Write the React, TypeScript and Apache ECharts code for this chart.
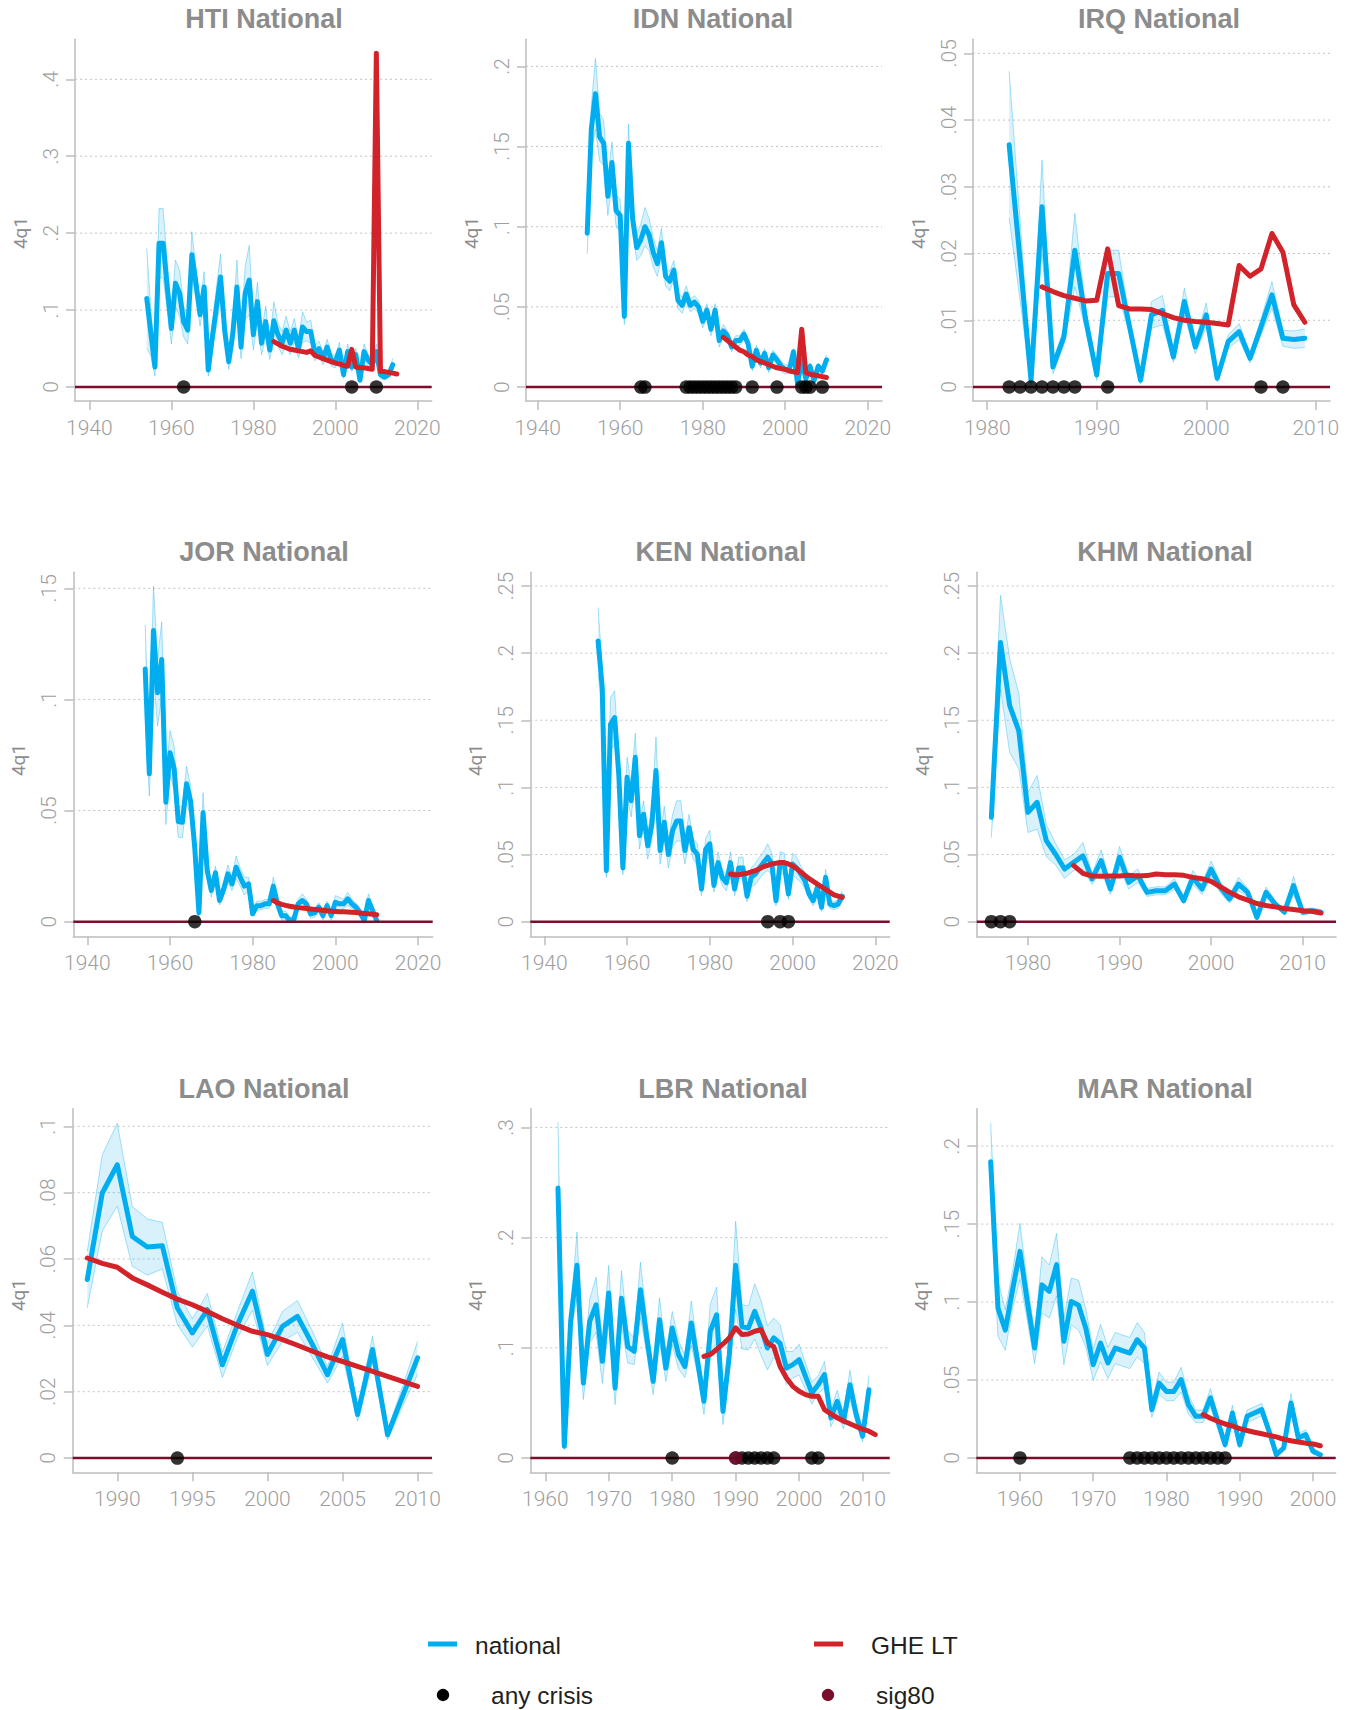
import React, { useEffect, useRef } from "react";
import * as echarts from "echarts";

// ---------- colours & fonts ----------
const BLUE = "#00aeef";
const RED = "#d2232a";
const MAROON = "#7b0c2c";
const BAND_FILL = "rgba(0,160,230,0.15)";
const BAND_EDGE = "rgba(0,174,239,0.35)";
const AXIS_C = "#bdbdbd";
const GRID_C = "#c4c4c4";
const TICK_C = "#9e9e9e";
const TITLE_C = "#8c8c8c";
const TICK_FONT = "Roboto, 'Liberation Sans', sans-serif";
const TITLE_FONT = "'Liberation Sans', Arial, sans-serif";
const LEGEND_FONT = "'Liberation Sans', Arial, sans-serif";

// ---------- HTI ----------
const htiStart = 1954;
const htiNational = [
  0.115, 0.07, 0.026, 0.187, 0.187, 0.13, 0.076, 0.135, 0.122, 0.085,
  0.074, 0.172, 0.135, 0.094, 0.13, 0.022, 0.065, 0.104, 0.143, 0.074,
  0.033, 0.07, 0.13, 0.052, 0.122, 0.139, 0.068, 0.111, 0.057, 0.085,
  0.048, 0.086, 0.068, 0.057, 0.074, 0.057, 0.074, 0.05, 0.078, 0.072,
  0.072, 0.044, 0.05, 0.037, 0.052, 0.035, 0.033, 0.048, 0.016, 0.046,
  0.026, 0.042, 0.009, 0.046, 0.035, 0.029, 0.046, 0.016, 0.013, 0.016,
  0.029,
];
const htiBand = [
  0.065, 0.03, 0.012, 0.045, 0.045, 0.03, 0.02, 0.03, 0.03, 0.02,
  0.018, 0.03, 0.02, 0.015, 0.02, 0.008, 0.015, 0.025, 0.03, 0.015,
  0.01, 0.02, 0.035, 0.015, 0.035, 0.045, 0.02, 0.025, 0.015, 0.02,
  0.012, 0.025, 0.015, 0.015, 0.018, 0.015, 0.015, 0.012, 0.02, 0.012,
  0.015, 0.01, 0.01, 0.008, 0.01, 0.008, 0.008, 0.01, 0.005, 0.01,
  0.006, 0.008, 0.004, 0.01, 0.008, 0.007, 0.01, 0.005, 0.004, 0.004,
  0.008,
];
const htiGheStart = 1985;
const htiGhe = [
  0.059, 0.056, 0.053, 0.051, 0.049, 0.048, 0.047, 0.046, 0.045, 0.047,
  0.041, 0.039, 0.037, 0.035, 0.033, 0.031, 0.03, 0.028, 0.027, 0.049,
  0.026, 0.025, 0.025, 0.024, 0.023, 0.434, 0.02, 0.02, 0.019, 0.018,
  0.017,
];
const htiCrisis = [1963, 2004, 2010];
const htiSig80: number[] = [];

// ---------- IDN ----------
const idnStart = 1952;
const idnNational = [
  0.096, 0.161, 0.183, 0.156, 0.152, 0.119, 0.14, 0.11, 0.107, 0.044,
  0.152, 0.105, 0.087, 0.092, 0.1, 0.095, 0.084, 0.077, 0.09, 0.069,
  0.066, 0.073, 0.054, 0.051, 0.058, 0.051, 0.053, 0.05, 0.041, 0.048,
  0.036, 0.048, 0.029, 0.035, 0.032, 0.025, 0.029, 0.029, 0.033, 0.027,
  0.013, 0.023, 0.015, 0.021, 0.012, 0.02, 0.017, 0.013, 0.011, 0.011,
  0.022, 0.002, 0.017, 0.005, 0.013, 0.004, 0.013, 0.01, 0.017,
];
const idnBand = [
  0.013, 0.015, 0.022, 0.015, 0.014, 0.012, 0.013, 0.01, 0.01, 0.005,
  0.012, 0.008, 0.008, 0.01, 0.012, 0.01, 0.009, 0.008, 0.009, 0.006,
  0.006, 0.006, 0.005, 0.005, 0.005, 0.004, 0.004, 0.004, 0.004, 0.004,
  0.004, 0.004, 0.004, 0.004, 0.003, 0.003, 0.003, 0.003, 0.003, 0.003,
  0.003, 0.003, 0.003, 0.003, 0.003, 0.003, 0.003, 0.003, 0.003, 0.002,
  0.002, 0.002, 0.002, 0.002, 0.002, 0.002, 0.002, 0.002, 0.003,
];
const idnGheStart = 1985;
const idnGhe = [
  0.031, 0.029, 0.027, 0.025, 0.023, 0.022, 0.02, 0.019, 0.017, 0.016,
  0.015, 0.014, 0.013, 0.012, 0.0115, 0.011, 0.01, 0.0095, 0.009, 0.036,
  0.009, 0.008, 0.0075, 0.007, 0.0065, 0.006,
];
const idnCrisis = [
  1965, 1966, 1976, 1977, 1978, 1979, 1980, 1981, 1982, 1983, 1984, 1985,
  1986, 1987, 1988, 1992, 1998, 2004, 2005, 2006, 2009,
];
const idnSig80: number[] = [];

// ---------- IRQ ----------
const irqStart = 1982;
const irqNational = [
  0.0363, 0.019, 0.001, 0.027, 0.003, 0.0075, 0.0205, 0.01, 0.0018, 0.017,
  0.017, 0.009, 0.001, 0.0108, 0.0115, 0.0045, 0.0128, 0.006, 0.0108, 0.0013,
  0.0068, 0.0083, 0.0043, 0.009, 0.0138, 0.0073, 0.0071, 0.0073,
];
const irqBand = [
  0.011, 0.006, 0.001, 0.007, 0.001, 0.0012, 0.0055, 0.0015, 0.0008, 0.0035,
  0.0035, 0.001, 0.0005, 0.002, 0.0022, 0.0008, 0.002, 0.001, 0.0018, 0.0005,
  0.001, 0.0012, 0.0007, 0.0012, 0.002, 0.0012, 0.0013, 0.0014,
];
const irqGheStart = 1985;
const irqGhe = [
  0.015, 0.0143, 0.0137, 0.0133, 0.0129, 0.013, 0.0207, 0.0122, 0.0117, 0.0117,
  0.0116, 0.011, 0.0104, 0.01, 0.0098, 0.0097, 0.0095, 0.0093, 0.0182, 0.0166,
  0.0177, 0.023, 0.0202, 0.0123, 0.0097,
];
const irqCrisis = [1982, 1983, 1984, 1985, 1986, 1987, 1988, 1991, 2005, 2007];
const irqSig80: number[] = [];

// ---------- JOR ----------
const jorStart = 1954;
const jorNational = [
  0.1137, 0.0665, 0.131, 0.103, 0.118, 0.0537, 0.076, 0.069, 0.045, 0.0447,
  0.062, 0.054, 0.033, 0.004, 0.049, 0.023, 0.014, 0.022, 0.0095, 0.0147,
  0.0215, 0.017, 0.0245, 0.02, 0.016, 0.017, 0.0035, 0.0072, 0.0072, 0.008,
  0.008, 0.016, 0.008, 0.0027, 0.0027, 0.0005, 0.0012, 0.008, 0.0095, 0.008,
  0.0035, 0.004, 0.0065, 0.0027, 0.0072, 0.0027, 0.0087, 0.008, 0.008, 0.0102,
  0.008, 0.0065, 0.004, 0.0005, 0.0095, 0.005, 0.0005,
];
const jorBand = [
  0.02, 0.01, 0.02, 0.015, 0.017, 0.01, 0.01, 0.01, 0.007, 0.007,
  0.008, 0.007, 0.006, 0.002, 0.009, 0.004, 0.003, 0.003, 0.002, 0.003,
  0.004, 0.003, 0.005, 0.004, 0.004, 0.003, 0.001, 0.002, 0.002, 0.002,
  0.002, 0.004, 0.002, 0.002, 0.002, 0.001, 0.002, 0.002, 0.003, 0.002,
  0.002, 0.002, 0.002, 0.002, 0.002, 0.002, 0.003, 0.003, 0.002, 0.003,
  0.002, 0.002, 0.002, 0.002, 0.003, 0.002, 0.002,
];
const jorGheStart = 1985;
const jorGhe = [
  0.0095, 0.0085, 0.0078, 0.0073, 0.0069, 0.0066, 0.0063, 0.0061, 0.0059, 0.0057,
  0.0055, 0.0053, 0.0051, 0.0049, 0.0047, 0.0046, 0.0045, 0.0044, 0.0043, 0.0042,
  0.0041, 0.0039, 0.0037, 0.0035, 0.0033, 0.0031,
];
const jorCrisis = [1966];
const jorSig80: number[] = [];

// ---------- KEN ----------
const kenStart = 1953;
const kenNational = [
  0.209, 0.1745, 0.038, 0.147, 0.152, 0.11, 0.04, 0.1075, 0.09, 0.1224,
  0.064, 0.08, 0.0566, 0.0727, 0.1125, 0.053, 0.074, 0.05, 0.0678, 0.075,
  0.075, 0.053, 0.07, 0.054, 0.05, 0.0243, 0.054, 0.058, 0.027, 0.044,
  0.033, 0.029, 0.044, 0.0243, 0.04, 0.04, 0.019, 0.033, 0.0355, 0.04,
  0.044, 0.048, 0.043, 0.0156, 0.044, 0.043, 0.0206, 0.043, 0.04, 0.0355,
  0.0305, 0.0206, 0.0156, 0.0256, 0.0107, 0.033, 0.013, 0.012, 0.013, 0.019,
];
const kenBand = [
  0.025, 0.015, 0.005, 0.02, 0.02, 0.012, 0.005, 0.015, 0.012, 0.018,
  0.01, 0.01, 0.01, 0.012, 0.025, 0.01, 0.012, 0.01, 0.012, 0.015,
  0.015, 0.01, 0.01, 0.008, 0.008, 0.005, 0.008, 0.01, 0.005, 0.008,
  0.006, 0.006, 0.008, 0.005, 0.008, 0.008, 0.004, 0.007, 0.008, 0.008,
  0.008, 0.01, 0.008, 0.004, 0.008, 0.008, 0.004, 0.008, 0.008, 0.006,
  0.006, 0.004, 0.004, 0.005, 0.003, 0.006, 0.003, 0.003, 0.003, 0.004,
];
const kenGheStart = 1985;
const kenGhe = [
  0.0355, 0.035, 0.035, 0.0355, 0.036, 0.037, 0.038, 0.0395, 0.041, 0.042,
  0.043, 0.0435, 0.044, 0.044, 0.043, 0.0415, 0.0395, 0.037, 0.0345, 0.032,
  0.03, 0.028, 0.026, 0.024, 0.022, 0.02, 0.019, 0.018,
];
const kenCrisis = [1994, 1997, 1999];
const kenSig80: number[] = [];

// ---------- KHM ----------
const khmStart = 1976;
const khmNational = [
  0.0777, 0.208, 0.161, 0.142, 0.0814, 0.0889, 0.0603, 0.0504, 0.0392, 0.0442,
  0.049, 0.0318, 0.0454, 0.0243, 0.048, 0.0293, 0.0343, 0.0218, 0.023, 0.023,
  0.028, 0.0156, 0.033, 0.0243, 0.0392, 0.0256, 0.0169, 0.028, 0.0218, 0.0032,
  0.0218, 0.0132, 0.007, 0.0268, 0.007, 0.0082, 0.007,
];
const khmBand = [
  0.015, 0.035, 0.035, 0.028, 0.015, 0.02, 0.012, 0.008, 0.007, 0.006,
  0.01, 0.004, 0.008, 0.004, 0.008, 0.005, 0.005, 0.003, 0.003, 0.003,
  0.004, 0.002, 0.005, 0.004, 0.006, 0.004, 0.003, 0.005, 0.003, 0.001,
  0.004, 0.002, 0.001, 0.007, 0.002, 0.002, 0.002,
];
const khmGheStart = 1985;
const khmGhe = [
  0.0417, 0.036, 0.034, 0.0338, 0.034, 0.034, 0.0345, 0.034, 0.0343, 0.0355,
  0.035, 0.035, 0.0345, 0.033, 0.032, 0.03, 0.026, 0.022, 0.0185, 0.016,
  0.0135, 0.012, 0.011, 0.0098, 0.009, 0.0082, 0.0078, 0.0065,
];
const khmCrisis = [1976, 1977, 1978];
const khmSig80: number[] = [];

// ---------- LAO ----------
const laoStart = 1988;
const laoNational = [
  0.0538, 0.0799, 0.0884, 0.0668, 0.0636, 0.064, 0.0452, 0.0377, 0.0447, 0.0281,
  0.0402, 0.0503, 0.0312, 0.0397, 0.0427, 0.0342, 0.0251, 0.0357, 0.0131, 0.0327,
  0.007, 0.0186, 0.0302,
];
const laoBand = [
  0.0085, 0.0115, 0.0125, 0.009, 0.0085, 0.007, 0.005, 0.0043, 0.0049, 0.0038,
  0.004, 0.0058, 0.0033, 0.0045, 0.0048, 0.004, 0.0025, 0.005, 0.002, 0.004,
  0.0015, 0.003, 0.005,
];
const laoGheStart = 1988;
const laoGhe = [
  0.0603, 0.0587, 0.0575, 0.0543, 0.0522, 0.05, 0.0479, 0.0462, 0.0442, 0.042,
  0.04, 0.0382, 0.0372, 0.0357, 0.034, 0.0322, 0.0305, 0.0291, 0.0276, 0.0261,
  0.0246, 0.0231, 0.0216,
];
const laoCrisis = [1994];
const laoSig80: number[] = [];

// ---------- LBR ----------
const lbrStart = 1962;
const lbrNational = [
  0.245, 0.0106, 0.124, 0.175, 0.068, 0.124, 0.139, 0.0877, 0.1497, 0.0635,
  0.145, 0.101, 0.0968, 0.1527, 0.109, 0.0695, 0.1255, 0.0816, 0.118, 0.0937,
  0.083, 0.1225, 0.0877, 0.0514, 0.115, 0.13, 0.0423, 0.0937, 0.175, 0.119,
  0.118, 0.133, 0.118, 0.0998, 0.109, 0.104, 0.0816, 0.0847, 0.0892, 0.074,
  0.059, 0.0665, 0.0756, 0.0363, 0.0514, 0.0333, 0.0665, 0.0393, 0.0197, 0.062,
];
const lbrBand = [
  0.06, 0.003, 0.01, 0.03, 0.015, 0.02, 0.025, 0.02, 0.025, 0.015,
  0.025, 0.015, 0.012, 0.025, 0.015, 0.012, 0.02, 0.012, 0.015, 0.013,
  0.01, 0.02, 0.012, 0.012, 0.025, 0.025, 0.012, 0.015, 0.04, 0.02,
  0.02, 0.025, 0.025, 0.02, 0.018, 0.017, 0.015, 0.012, 0.014, 0.012,
  0.01, 0.008, 0.012, 0.008, 0.01, 0.007, 0.013, 0.008, 0.005, 0.013,
];
const lbrGheStart = 1985;
const lbrGhe = [
  0.0922, 0.094, 0.0985, 0.1035, 0.109, 0.118, 0.112, 0.1125, 0.115, 0.1164,
  0.1043, 0.101, 0.083, 0.0726, 0.065, 0.0605, 0.0575, 0.056, 0.056, 0.0438,
  0.04, 0.0365, 0.0335, 0.031, 0.0285, 0.0262, 0.0243, 0.0212,
];
const lbrCrisis = [1980, 1990, 1991, 1992, 1993, 1994, 1995, 1996, 2002, 2003];
const lbrSig80 = [1990];

// ---------- MAR ----------
const marStart = 1956;
const marNational = [
  0.19, 0.096, 0.082, 0.108, 0.1325, 0.1004, 0.0705, 0.111, 0.1068, 0.124,
  0.0748, 0.1004, 0.098, 0.083, 0.0598, 0.0737, 0.061, 0.0705, 0.0688, 0.0673,
  0.0758, 0.0705, 0.031, 0.048, 0.0427, 0.0427, 0.0502, 0.0342, 0.0267, 0.0267,
  0.0385, 0.0235, 0.0085, 0.0288, 0.0085, 0.0267, 0.0288, 0.031, 0.0171, 0.0021,
  0.0064, 0.0353, 0.0128, 0.015, 0.0043, 0.0021,
];
const marBand = [
  0.025, 0.018, 0.013, 0.012, 0.018, 0.012, 0.01, 0.018, 0.017, 0.02,
  0.015, 0.015, 0.016, 0.012, 0.01, 0.012, 0.01, 0.01, 0.01, 0.01,
  0.011, 0.01, 0.005, 0.007, 0.006, 0.006, 0.008, 0.006, 0.004, 0.004,
  0.006, 0.004, 0.002, 0.005, 0.002, 0.004, 0.004, 0.004, 0.003, 0.001,
  0.002, 0.006, 0.003, 0.003, 0.002, 0.001,
];
const marGheStart = 1985;
const marGhe = [
  0.0278, 0.0255, 0.0235, 0.0218, 0.0205, 0.0188, 0.0176, 0.0165, 0.0155, 0.0145,
  0.0135, 0.012, 0.011, 0.0102, 0.0095, 0.009, 0.0078,
];
const marCrisis = [
  1960, 1975, 1976, 1977, 1978, 1979, 1980, 1981, 1982, 1983, 1984, 1985,
  1986, 1987, 1988,
];
const marSig80: number[] = [];

// ---------- tick labels ----------
const xTicks40 = [1940, 1960, 1980, 2000, 2020];
const xTicks80 = [1980, 1990, 2000, 2010];
const xTicksLao = [1990, 1995, 2000, 2005, 2010];
const xTicksLbr = [1960, 1970, 1980, 1990, 2000, 2010];
const xTicksMar = [1960, 1970, 1980, 1990, 2000];
const yTicksHti = [0, 0.1, 0.2, 0.3, 0.4];
const yTicksIdn = [0, 0.05, 0.1, 0.15, 0.2];
const yTicksIrq = [0, 0.01, 0.02, 0.03, 0.04, 0.05];
const yTicksJor = [0, 0.05, 0.1, 0.15];
const yTicksKen = [0, 0.05, 0.1, 0.15, 0.2, 0.25];
const yTicksLao = [0, 0.02, 0.04, 0.06, 0.08, 0.1];
const yTicksLbr = [0, 0.1, 0.2, 0.3];
const yTicksMar = [0, 0.05, 0.1, 0.15, 0.2];
const yTitle = "4q1";

type Country = {
  title: string;
  start: number;
  national: number[];
  band: number[];
  gheStart: number;
  ghe: number[];
  crisis: number[];
  sig80: number[];
  xTicks: number[];
  yTicks: number[];
};

const countries: Country[] = [
  { title: "HTI National", start: htiStart, national: htiNational, band: htiBand, gheStart: htiGheStart, ghe: htiGhe, crisis: htiCrisis, sig80: htiSig80, xTicks: xTicks40, yTicks: yTicksHti },
  { title: "IDN National", start: idnStart, national: idnNational, band: idnBand, gheStart: idnGheStart, ghe: idnGhe, crisis: idnCrisis, sig80: idnSig80, xTicks: xTicks40, yTicks: yTicksIdn },
  { title: "IRQ National", start: irqStart, national: irqNational, band: irqBand, gheStart: irqGheStart, ghe: irqGhe, crisis: irqCrisis, sig80: irqSig80, xTicks: xTicks80, yTicks: yTicksIrq },
  { title: "JOR National", start: jorStart, national: jorNational, band: jorBand, gheStart: jorGheStart, ghe: jorGhe, crisis: jorCrisis, sig80: jorSig80, xTicks: xTicks40, yTicks: yTicksJor },
  { title: "KEN National", start: kenStart, national: kenNational, band: kenBand, gheStart: kenGheStart, ghe: kenGhe, crisis: kenCrisis, sig80: kenSig80, xTicks: xTicks40, yTicks: yTicksKen },
  { title: "KHM National", start: khmStart, national: khmNational, band: khmBand, gheStart: khmGheStart, ghe: khmGhe, crisis: khmCrisis, sig80: khmSig80, xTicks: xTicks80, yTicks: yTicksKen },
  { title: "LAO National", start: laoStart, national: laoNational, band: laoBand, gheStart: laoGheStart, ghe: laoGhe, crisis: laoCrisis, sig80: laoSig80, xTicks: xTicksLao, yTicks: yTicksLao },
  { title: "LBR National", start: lbrStart, national: lbrNational, band: lbrBand, gheStart: lbrGheStart, ghe: lbrGhe, crisis: lbrCrisis, sig80: lbrSig80, xTicks: xTicksLbr, yTicks: yTicksLbr },
  { title: "MAR National", start: marStart, national: marNational, band: marBand, gheStart: marGheStart, ghe: marGhe, crisis: marCrisis, sig80: marSig80, xTicks: xTicksMar, yTicks: yTicksMar },
];

// Plot-region geometry and axis ranges of each small multiple (pixels / data units).
type Layout = {
  left: number; top: number; width: number; height: number;
  xMin: number; xMax: number; yMin: number; yMax: number;
  titleX: number; titleY: number; yTitleY: number;
};
const layouts: Layout[] = [
  { left: 75, top: 39.3, width: 356.7, height: 361.7, xMin: 1936.5, xMax: 2023.5, yMin: -0.0182, yMax: 0.452, titleX: 264, titleY: 19, yTitleY: 233 },
  { left: 526, top: 39.3, width: 356, height: 361.7, xMin: 1937.16, xMax: 2023.46, yMin: -0.0087, yMax: 0.2169, titleX: 713, titleY: 19, yTitleY: 233 },
  { left: 973, top: 39.3, width: 357, height: 361.7, xMin: 1978.7, xMax: 2011.3, yMin: -0.0021, yMax: 0.0521, titleX: 1159, titleY: 19, yTitleY: 233 },
  { left: 73.3, top: 572.3, width: 359.4, height: 364, xMin: 1936.61, xMax: 2023.55, yMin: -0.0066, yMax: 0.1572, titleX: 264, titleY: 552, yTitleY: 760 },
  { left: 530.3, top: 572.3, width: 359.4, height: 364, xMin: 1936.62, xMax: 2023.48, yMin: -0.0109, yMax: 0.2602, titleX: 721, titleY: 552, yTitleY: 760 },
  { left: 976.7, top: 572.3, width: 359.3, height: 364, xMin: 1974.4, xMax: 2013.64, yMin: -0.0109, yMax: 0.2602, titleX: 1165, titleY: 552, yTitleY: 760 },
  { left: 72.7, top: 1108.7, width: 359.3, height: 363.6, xMin: 1987.03, xMax: 2010.96, yMin: -0.0043, yMax: 0.1053, titleX: 264, titleY: 1089, yTitleY: 1295 },
  { left: 530.3, top: 1108.7, width: 359.4, height: 363.6, xMin: 1957.64, xMax: 2014.27, yMin: -0.013, yMax: 0.317, titleX: 723, titleY: 1089, yTitleY: 1295 },
  { left: 976.3, top: 1108.7, width: 359.4, height: 363.6, xMin: 1954.04, xMax: 2003.1, yMin: -0.0092, yMax: 0.224, titleX: 1165, titleY: 1089, yTitleY: 1295 },
];

const fmtY = (v: number) => (v === 0 ? "0" : String(v).replace(/^0\./, "."));

function buildOption() {
  const grid: any[] = [];
  const xAxis: any[] = [];
  const yAxis: any[] = [];
  const series: any[] = [];
  const graphic: any[] = [];

  countries.forEach((c, i) => {
    const L = layouts[i];
    grid.push({ left: L.left, top: L.top, width: L.width, height: L.height });
    xAxis.push({
      type: "value",
      gridIndex: i,
      min: L.xMin,
      max: L.xMax,
      axisLine: { show: true, onZero: false, lineStyle: { color: AXIS_C, width: 1.5 } },
      axisTick: { show: true, length: 9, customValues: c.xTicks, lineStyle: { color: AXIS_C, width: 1.5 } },
      axisLabel: {
        customValues: c.xTicks,
        color: TICK_C,
        fontSize: 21,
        fontFamily: TICK_FONT,
        fontWeight: 300,
        margin: 16,
        formatter: (v: number) => String(v),
      },
      splitLine: { show: false },
    });
    yAxis.push({
      type: "value",
      gridIndex: i,
      min: L.yMin,
      max: L.yMax,
      axisLine: { show: true, onZero: false, lineStyle: { color: AXIS_C, width: 1.5 } },
      axisTick: { show: true, length: 9, customValues: c.yTicks, lineStyle: { color: AXIS_C, width: 1.5 } },
      axisLabel: {
        customValues: c.yTicks,
        rotate: 90,
        color: TICK_C,
        fontSize: 21,
        fontFamily: TICK_FONT,
        fontWeight: 300,
        margin: 14,
        formatter: fmtY,
      },
      splitLine: { show: false },
    });

    const ax = { xAxisIndex: i, yAxisIndex: i };

    // horizontal reference lines at each y tick (zero line in maroon)
    c.yTicks.forEach((t) => {
      series.push({
        type: "line",
        ...ax,
        silent: true,
        symbol: "none",
        z: t === 0 ? 3 : 0,
        data: [[L.xMin, t], [L.xMax, t]],
        lineStyle: t === 0 ? { color: MAROON, width: 2.5 } : { color: GRID_C, width: 1, type: [2, 3] },
      });
    });

    // confidence band around the national series
    const upper = c.national.map((v, k) => [c.start + k, v + c.band[k]]);
    const lower = c.national.map((v, k) => [c.start + k, Math.max(0, v - c.band[k])]);
    series.push({
      type: "custom",
      ...ax,
      silent: true,
      z: 1,
      data: [[c.start, 0]],
      renderItem: (_params: any, api: any) => {
        const up = upper.map((p) => api.coord(p));
        const lo = lower.map((p) => api.coord(p));
        return {
          type: "group",
          children: [
            { type: "polygon", shape: { points: up.concat(lo.slice().reverse()) }, style: { fill: BAND_FILL, stroke: null } },
            { type: "polyline", shape: { points: up }, style: { stroke: BAND_EDGE, lineWidth: 1, fill: null } },
            { type: "polyline", shape: { points: lo }, style: { stroke: BAND_EDGE, lineWidth: 1, fill: null } },
          ],
        };
      },
    });

    series.push({
      type: "line",
      ...ax,
      silent: true,
      symbol: "none",
      z: 2,
      data: c.national.map((v, k) => [c.start + k, v]),
      lineStyle: { color: BLUE, width: 5, cap: "round", join: "round" },
    });
    series.push({
      type: "line",
      ...ax,
      silent: true,
      symbol: "none",
      z: 4,
      data: c.ghe.map((v, k) => [c.gheStart + k, v]),
      lineStyle: { color: RED, width: 5, cap: "round", join: "round" },
    });
    series.push({
      type: "scatter",
      ...ax,
      silent: true,
      z: 5,
      symbolSize: 13.5,
      itemStyle: { color: "#000" },
      data: c.crisis.map((y) => [y, 0]),
    });
    if (c.sig80.length) {
      series.push({
        type: "scatter",
        ...ax,
        silent: true,
        z: 6,
        symbolSize: 13.5,
        itemStyle: { color: MAROON },
        data: c.sig80.map((y) => [y, 0]),
      });
    }

    // panel title
    graphic.push({
      type: "text",
      x: L.titleX,
      y: L.titleY,
      silent: true,
      style: {
        text: c.title,
        fill: TITLE_C,
        fontSize: 27,
        fontWeight: "bold",
        fontFamily: TITLE_FONT,
        align: "center",
        verticalAlign: "middle",
        textAlign: "center",
        textVerticalAlign: "middle",
      },
    });
    // rotated y-axis title
    graphic.push({
      type: "text",
      x: L.left - 54.5,
      y: L.yTitleY,
      rotation: Math.PI / 2,
      silent: true,
      style: {
        text: yTitle,
        fill: TITLE_C,
        fontSize: 19,
        fontFamily: TICK_FONT,
        align: "center",
        verticalAlign: "middle",
        textAlign: "center",
        textVerticalAlign: "middle",
      },
    });
  });

  // legend
  const legendText = (text: string, x: number, y: number) => ({
    type: "text",
    x,
    y,
    silent: true,
    style: {
      text,
      fill: "#231f20",
      fontSize: 24.5,
      fontFamily: LEGEND_FONT,
      align: "left",
      verticalAlign: "middle",
      textAlign: "left",
      textVerticalAlign: "middle",
    },
  });
  graphic.push(
    { type: "line", silent: true, shape: { x1: 428, y1: 1644, x2: 457, y2: 1644 }, style: { stroke: BLUE, lineWidth: 5 } },
    legendText("national", 475, 1645),
    { type: "line", silent: true, shape: { x1: 814, y1: 1644, x2: 843, y2: 1644 }, style: { stroke: RED, lineWidth: 5 } },
    legendText("GHE LT", 871, 1645),
    { type: "circle", silent: true, shape: { cx: 443, cy: 1695, r: 6.2 }, style: { fill: "#000" } },
    legendText("any crisis", 491, 1695),
    { type: "circle", silent: true, shape: { cx: 828, cy: 1695, r: 6.2 }, style: { fill: MAROON } },
    legendText("sig80", 876, 1695)
  );

  return {
    animation: false,
    backgroundColor: "#ffffff",
    grid,
    xAxis,
    yAxis,
    series,
    graphic,
  };
}

export default function App() {
  const ref = useRef<HTMLDivElement>(null);
  useEffect(() => {
    if (!ref.current) return;
    const chart = echarts.init(ref.current, undefined, { renderer: "svg" });
    chart.setOption(buildOption() as any);
    return () => chart.dispose();
  }, []);
  return (
    <div
      ref={ref}
      style={{ position: "absolute", left: 0, top: 0, width: 1351, height: 1710, overflow: "hidden", background: "#fff" }}
    />
  );
}
